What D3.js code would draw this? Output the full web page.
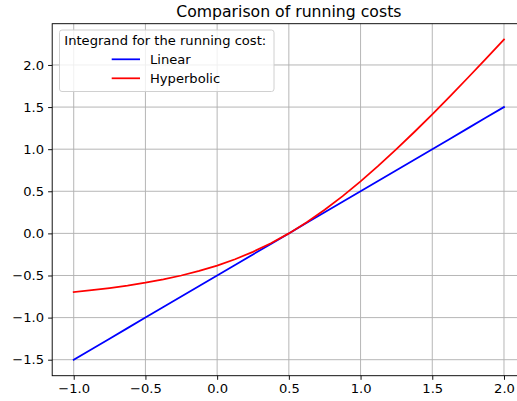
<!DOCTYPE html>
<html><head><meta charset="utf-8">
<script src="https://cdn.jsdelivr.net/npm/d3@7"></script>
<style>body{margin:0;background:#fff}svg{display:block;font-family:"DejaVu Sans",sans-serif}</style>
</head><body><svg id="c" width="517" height="401"></svg>
<script>
const xTicks = [-1.0,-0.5,0.0,0.5,1.0,1.5,2.0];
const yTicks = [-1.5,-1.0,-0.5,0.0,0.5,1.0,1.5,2.0];
const xs = [-1.0,-0.875,-0.75,-0.625,-0.5,-0.375,-0.25,-0.125,0.0,0.125,0.25,0.375,0.5,0.625,0.75,0.875,1.0,1.125,1.25,1.375,1.5,1.625,1.75,1.875,2.0];
const linear = [-1.5,-1.375,-1.25,-1.125,-1.0,-0.875,-0.75,-0.625,-0.5,-0.375,-0.25,-0.125,0.0,0.125,0.25,0.375,0.5,0.625,0.75,0.875,1.0,1.125,1.25,1.375,1.5];
const hyperbolic = [-0.697,-0.675,-0.649,-0.620,-0.586,-0.546,-0.500,-0.446,-0.382,-0.307,-0.219,-0.117,0.0,0.133,0.281,0.443,0.618,0.804,1.0,1.204,1.414,1.630,1.851,2.075,2.303];
const seriesNames = ["Linear","Hyperbolic"];
const seriesColors = ["#0000ff","#ff0000"];
const title = "Comparison of running costs";
const legendTitle = "Integrand for the running cost:";

const svg = d3.select("#c");
const L=52.2, R=525.5, T=23.7, B=375.7;
const x = d3.scaleLinear().domain([-1.15,2.15]).range([L,R]);
const y = d3.scaleLinear().domain([-1.69,2.49]).range([B,T]);
const fmt = d=> (d<0?"\u2212":"")+Math.abs(d).toFixed(1);
const FS = 13.1;

const g = svg.append("g");
g.selectAll(".gx").data(xTicks).enter().append("line")
 .attr("x1",d=>x(d)).attr("x2",d=>x(d)).attr("y1",T).attr("y2",B)
 .attr("stroke","#b0b0b0").attr("stroke-width",0.93);
g.selectAll(".gy").data(yTicks).enter().append("line")
 .attr("y1",d=>y(d)).attr("y2",d=>y(d)).attr("x1",L).attr("x2",R)
 .attr("stroke","#b0b0b0").attr("stroke-width",0.93);

const line = d3.line().x((d,i)=>x(xs[i])).y(d=>y(d));
[linear,hyperbolic].forEach((s,k)=>{
  svg.append("path").datum(s).attr("d",line).attr("fill","none")
   .attr("stroke",seriesColors[k]).attr("stroke-width",1.75).attr("stroke-linecap","square");
});

const xa = svg.append("g").attr("transform",`translate(0,${B})`)
 .call(d3.axisBottom(x).tickValues(xTicks).tickFormat(fmt).tickSize(4.1).tickPadding(4.1));
const ya = svg.append("g").attr("transform",`translate(${L},0)`)
 .call(d3.axisLeft(y).tickValues(yTicks).tickFormat(fmt).tickSize(4.1).tickPadding(4.1));
[xa,ya].forEach(a=>{
  a.select(".domain").remove();
  a.selectAll("line").attr("stroke","#000").attr("stroke-width",0.93);
  a.selectAll("text").attr("font-family","DejaVu Sans").attr("font-size",FS).attr("fill","#000");
});
svg.append("rect").attr("x",L).attr("y",T).attr("width",R-L).attr("height",B-T)
 .attr("fill","none").attr("stroke","#000").attr("stroke-width",0.93);

svg.append("text").attr("x",(L+R)/2).attr("y",17.3).attr("text-anchor","middle")
 .attr("font-size",15.7).text(title);

const lg = svg.append("g");
lg.append("rect").attr("x",59.5).attr("y",30).attr("width",214.5).attr("height",61.5)
 .attr("rx",2.5).attr("fill","#fff").attr("fill-opacity",0.8).attr("stroke","#cccccc").attr("stroke-width",0.93);
lg.append("text").attr("x",64.3).attr("y",45.3).attr("font-size",FS).text(legendTitle);
seriesNames.forEach((n,i)=>{
  const yy = 59.3 + i*19;
  lg.append("line").attr("x1",111.7).attr("x2",140).attr("y1",yy).attr("y2",yy)
   .attr("stroke",seriesColors[i]).attr("stroke-width",1.75);
  lg.append("text").attr("x",150).attr("y",yy+4.8).attr("font-size",FS).text(n);
});
</script></body></html>
